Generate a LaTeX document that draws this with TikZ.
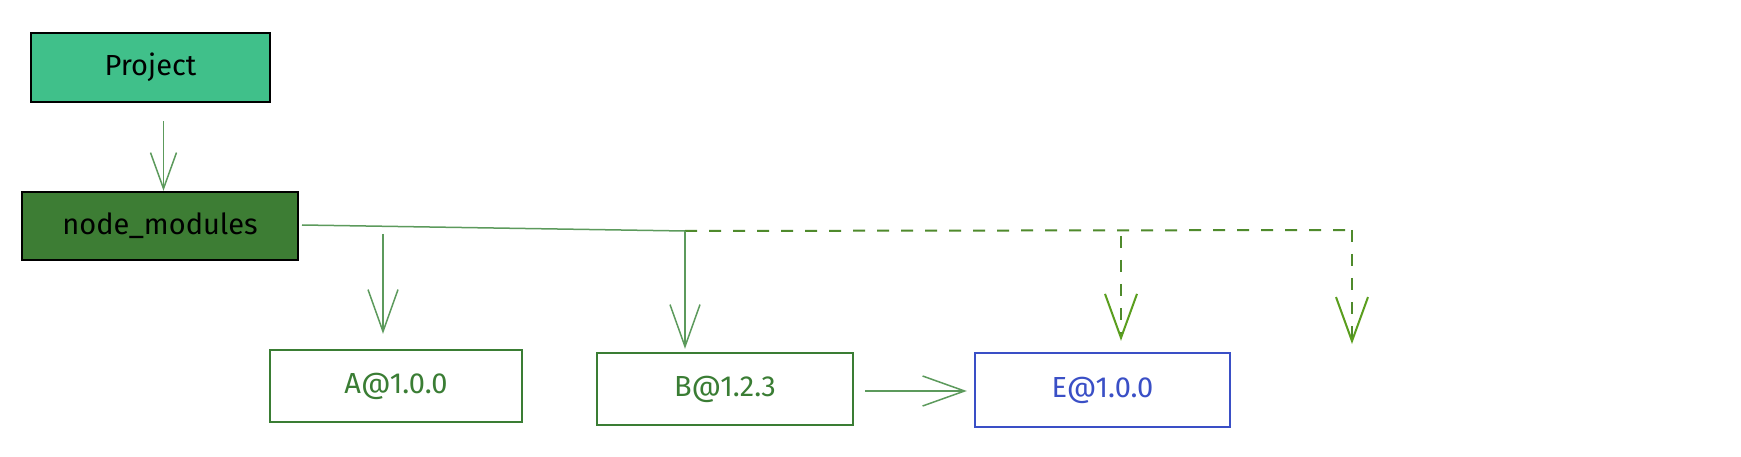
\documentclass[tikz,border=0pt]{standalone}
\usepackage{fontspec}
\setmainfont{Fira Sans}
\usetikzlibrary{arrows.meta}
\definecolor{projfill}{HTML}{40C08A}
\definecolor{nmfill}{HTML}{3D7D34}
\definecolor{pkggreen}{HTML}{3A7D34}
\definecolor{pkgblue}{HTML}{3A4FC6}
\definecolor{arrgreen}{HTML}{5C9A5C}
\definecolor{dashgreen}{HTML}{4F8A2C}
\definecolor{tipgreen}{HTML}{5A9E1E}
\tikzset{
  box/.style={draw, line width=2.4pt, minimum width=#1, inner sep=0pt,
    font=\fontsize{29}{34}\selectfont},
  darkbox/.style={box=#1, draw=black, minimum height=68pt},
  pkg/.style={box=#1, minimum height=72pt, draw=pkggreen, text=pkggreen},
  arrsolid/.style={draw=arrgreen, line width=1.5pt,
    -{Straight Barb[length=42pt,width=30pt,line width=1.5pt]}},
  linesolid/.style={draw=arrgreen, line width=1.5pt},
  linedash/.style={draw=dashgreen, line width=2pt, dash pattern=on 12pt off 12pt},
  arrdash/.style={linedash,
    -{Straight Barb[length=44pt,width=32pt,line width=2pt,color=tipgreen]}}
}
\begin{document}
\begin{tikzpicture}[x=1pt,y=-1pt]
\path[use as bounding box, fill=white] (0,0) rectangle (1741,457);
% nodes
\node[darkbox=239pt, fill=projfill, minimum height=69pt] (proj) at (150.5,67.5) {Project};
\node[darkbox=276pt, fill=nmfill] (nm) at (160,226) {node\_modules};
\node[pkg=252pt] (A) at (396,386) {A@1.0.0};
\node[pkg=256pt] (B) at (725,389) {B@1.2.3};
\node[pkg=255pt, draw=pkgblue, text=pkgblue, minimum height=74pt] (E) at (1102.5,390) {E@1.0.0};
% junction coordinates
\coordinate (jS) at (302,225);
\coordinate (jA) at (383,234);
\coordinate (jB) at (685,231);
\coordinate (jE) at (1121,236);
\coordinate (jR) at (1352,230);
\coordinate (endR) at (1352,344);
% connectors
\draw[arrsolid, -{Straight Barb[length=36pt,width=26pt,line width=1.5pt]}] ([xshift=13pt,yshift=-18pt]proj.south) -- ([xshift=13pt]proj.south |- nm.north);
\draw[linesolid] (jS) -- (jB);
\draw[linedash] (jB) -- (jR);
\draw[arrsolid, shorten >=15pt] (jA) -- (jA |- A.north);
\draw[arrsolid, shorten >=3pt] (jB) -- (jB |- B.north);
\draw[arrdash, shorten >=11pt] (jE) -- (jE |- E.north);
\draw[arrdash] (jR) -- (endR);
\draw[arrsolid] ([xshift=11pt,yshift=-2pt]B.east) -- ([xshift=-7pt,yshift=-1pt]E.west);
\end{tikzpicture}
\end{document}
